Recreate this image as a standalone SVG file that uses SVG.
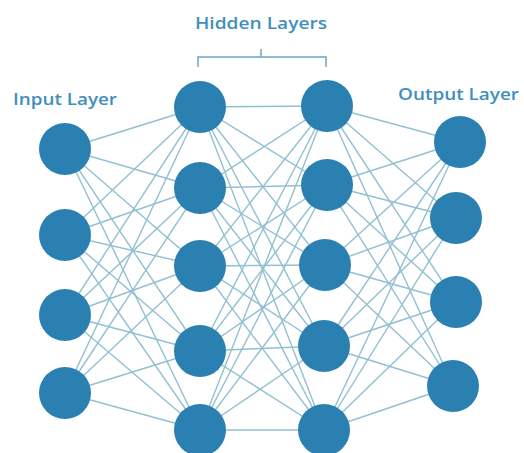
<svg xmlns="http://www.w3.org/2000/svg" width="524" height="453" viewBox="0 0 524 453">
  <style>
    .bg { fill: #ffffff; }
    .edge { stroke: #92c0d2; stroke-width: 1.4; fill: none; }
    .node { fill: #2b80b2; }
    .label { font-family: "Open Sans", "Liberation Sans", sans-serif; font-weight: 600; fill: #3f8fbd; }
    .bracket { stroke: #6aa7c8; stroke-width: 1.5; fill: none; }
  </style>
  <rect class="bg" x="0" y="0" width="524" height="453"/>

  <!-- labels -->
  <text class="label" x="13" y="105" font-size="16" textLength="104" lengthAdjust="spacingAndGlyphs">Input Layer</text>
  <text class="label" x="195" y="29" font-size="17" textLength="132" lengthAdjust="spacingAndGlyphs">Hidden Layers</text>
  <text class="label" x="398" y="100" font-size="16" textLength="121" lengthAdjust="spacingAndGlyphs">Output Layer</text>
  <path class="bracket" d="M198,67 V57 H326 V67 M261,57 V49"/>

  <!-- connectors -->
  <g id="connectors">
    <!-- input -> hidden 1 -->
    <g class="edge">
      <line x1="65" y1="149" x2="200" y2="107"/><line x1="65" y1="149" x2="200" y2="188"/><line x1="65" y1="149" x2="200" y2="266"/><line x1="65" y1="149" x2="200" y2="351"/><line x1="65" y1="149" x2="200" y2="430"/>
      <line x1="65" y1="235" x2="200" y2="107"/><line x1="65" y1="235" x2="200" y2="188"/><line x1="65" y1="235" x2="200" y2="266"/><line x1="65" y1="235" x2="200" y2="351"/><line x1="65" y1="235" x2="200" y2="430"/>
      <line x1="65" y1="315" x2="200" y2="107"/><line x1="65" y1="315" x2="200" y2="188"/><line x1="65" y1="315" x2="200" y2="266"/><line x1="65" y1="315" x2="200" y2="351"/><line x1="65" y1="315" x2="200" y2="430"/>
      <line x1="65" y1="393" x2="200" y2="107"/><line x1="65" y1="393" x2="200" y2="188"/><line x1="65" y1="393" x2="200" y2="266"/><line x1="65" y1="393" x2="200" y2="351"/><line x1="65" y1="393" x2="200" y2="430"/>
    </g>
    <!-- hidden 1 -> hidden 2 -->
    <g class="edge">
      <line x1="200" y1="107" x2="327" y2="106"/><line x1="200" y1="107" x2="327" y2="185"/><line x1="200" y1="107" x2="325" y2="265"/><line x1="200" y1="107" x2="324" y2="346"/><line x1="200" y1="107" x2="324" y2="430"/>
      <line x1="200" y1="188" x2="327" y2="106"/><line x1="200" y1="188" x2="327" y2="185"/><line x1="200" y1="188" x2="325" y2="265"/><line x1="200" y1="188" x2="324" y2="346"/><line x1="200" y1="188" x2="324" y2="430"/>
      <line x1="200" y1="266" x2="327" y2="106"/><line x1="200" y1="266" x2="327" y2="185"/><line x1="200" y1="266" x2="325" y2="265"/><line x1="200" y1="266" x2="324" y2="346"/><line x1="200" y1="266" x2="324" y2="430"/>
      <line x1="200" y1="351" x2="327" y2="106"/><line x1="200" y1="351" x2="327" y2="185"/><line x1="200" y1="351" x2="325" y2="265"/><line x1="200" y1="351" x2="324" y2="346"/><line x1="200" y1="351" x2="324" y2="430"/>
      <line x1="200" y1="430" x2="327" y2="106"/><line x1="200" y1="430" x2="327" y2="185"/><line x1="200" y1="430" x2="325" y2="265"/><line x1="200" y1="430" x2="324" y2="346"/><line x1="200" y1="430" x2="324" y2="430"/>
    </g>
    <!-- hidden 2 -> output -->
    <g class="edge">
      <line x1="327" y1="106" x2="460" y2="142"/><line x1="327" y1="106" x2="456" y2="218"/><line x1="327" y1="106" x2="456" y2="302"/><line x1="327" y1="106" x2="453" y2="386"/>
      <line x1="327" y1="185" x2="460" y2="142"/><line x1="327" y1="185" x2="456" y2="218"/><line x1="327" y1="185" x2="456" y2="302"/><line x1="327" y1="185" x2="453" y2="386"/>
      <line x1="325" y1="265" x2="460" y2="142"/><line x1="325" y1="265" x2="456" y2="218"/><line x1="325" y1="265" x2="456" y2="302"/><line x1="325" y1="265" x2="453" y2="386"/>
      <line x1="324" y1="346" x2="460" y2="142"/><line x1="324" y1="346" x2="456" y2="218"/><line x1="324" y1="346" x2="456" y2="302"/><line x1="324" y1="346" x2="453" y2="386"/>
      <line x1="324" y1="430" x2="460" y2="142"/><line x1="324" y1="430" x2="456" y2="218"/><line x1="324" y1="430" x2="456" y2="302"/><line x1="324" y1="430" x2="453" y2="386"/>
    </g>
  </g>

  <!-- input layer -->
  <g id="in1"><circle class="node" cx="65" cy="149" r="26"/></g>
  <g id="in2"><circle class="node" cx="65" cy="235" r="26"/></g>
  <g id="in3"><circle class="node" cx="65" cy="315" r="26"/></g>
  <g id="in4"><circle class="node" cx="65" cy="393" r="26"/></g>

  <!-- hidden layer 1 -->
  <g id="h1a"><circle class="node" cx="200" cy="107" r="26"/></g>
  <g id="h1b"><circle class="node" cx="200" cy="188" r="26"/></g>
  <g id="h1c"><circle class="node" cx="200" cy="266" r="26"/></g>
  <g id="h1d"><circle class="node" cx="200" cy="351" r="26"/></g>
  <g id="h1e"><circle class="node" cx="200" cy="430" r="26"/></g>

  <!-- hidden layer 2 -->
  <g id="h2a"><circle class="node" cx="327" cy="106" r="26"/></g>
  <g id="h2b"><circle class="node" cx="327" cy="185" r="26"/></g>
  <g id="h2c"><circle class="node" cx="325" cy="265" r="26"/></g>
  <g id="h2d"><circle class="node" cx="324" cy="346" r="26"/></g>
  <g id="h2e"><circle class="node" cx="324" cy="430" r="26"/></g>

  <!-- output layer -->
  <g id="out1"><circle class="node" cx="460" cy="142" r="26"/></g>
  <g id="out2"><circle class="node" cx="456" cy="218" r="26"/></g>
  <g id="out3"><circle class="node" cx="456" cy="302" r="26"/></g>
  <g id="out4"><circle class="node" cx="453" cy="386" r="26"/></g>
</svg>
